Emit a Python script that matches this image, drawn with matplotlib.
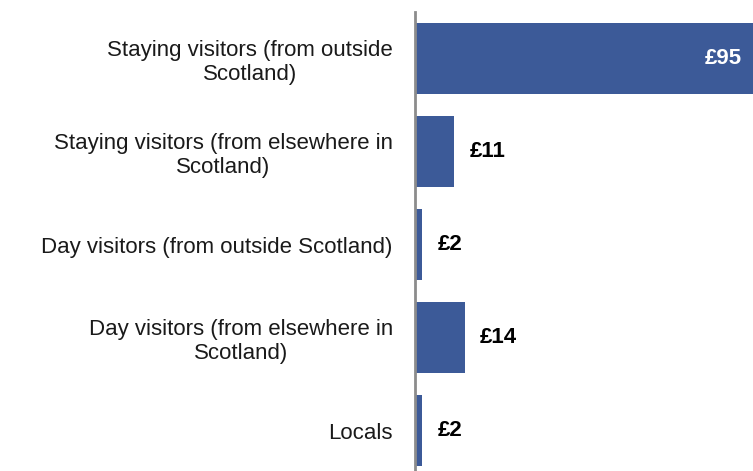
import matplotlib.pyplot as plt

plt.rcParams['font.family'] = ['Liberation Sans', 'DejaVu Sans']

categories = ['Staying visitors (from outside\nScotland)',
              'Staying visitors (from elsewhere in\nScotland)',
              'Day visitors (from outside Scotland)',
              'Day visitors (from elsewhere in\nScotland)',
              'Locals']
values = [95, 11, 2, 14, 2]
labels = ['£95', '£11', '£2', '£14', '£2']

bar_color = '#3C5A98'

fig = plt.figure(figsize=(7.53, 4.71), dpi=100)
ax = fig.add_axes([415 / 753, -0.013, 338 / 753, 0.987])

y = list(range(len(values)))
ax.barh(y, values, height=0.76, color=bar_color)
ax.set_xlim(0, 95)
ax.set_ylim(len(values) - 0.5, -0.5)

ax.set_yticks(y)
ax.set_yticklabels(categories, fontsize=16, ha='right', multialignment='center',
                   linespacing=1.2, color='#1a1a1a')
ax.tick_params(axis='y', length=0, pad=16)
ax.set_xticks([])

for s in ['top', 'right', 'bottom']:
    ax.spines[s].set_visible(False)
ax.spines['left'].set_color('#8c8c8c')
ax.spines['left'].set_linewidth(2)

for i, (v, lab) in enumerate(zip(values, labels)):
    if v > 50:
        ax.annotate(lab, (v, i), xytext=(-8, 0), textcoords='offset points',
                    ha='right', va='center', color='white', fontsize=16, fontweight='bold')
    else:
        ax.annotate(lab, (v, i), xytext=(11, 0), textcoords='offset points',
                    ha='left', va='center', color='black', fontsize=16, fontweight='bold')

fig.savefig('out.png', dpi=100)
